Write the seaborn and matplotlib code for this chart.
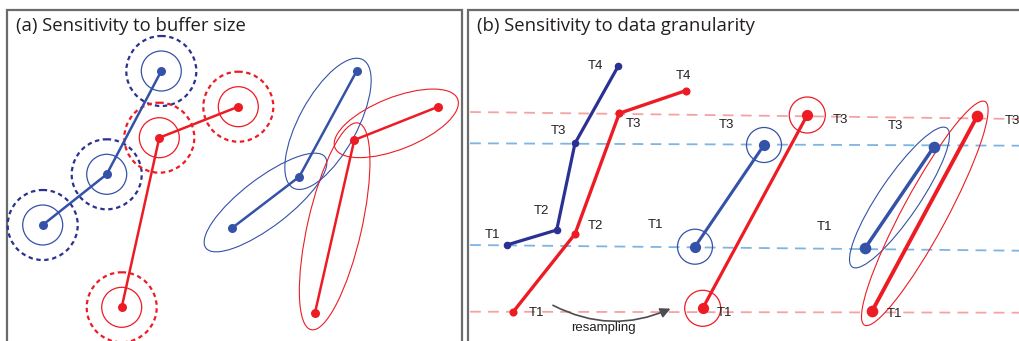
import numpy as np
import pandas as pd
import seaborn as sns
import matplotlib
matplotlib.use("Agg")
import matplotlib.pyplot as plt
from matplotlib.patches import Ellipse, Circle, FancyArrowPatch

# ---------------- data (pixel-space positions of the trajectory points) -------------
# Panel (a): buffer circles
buf_blue_x = [42.7, 106.7, 161.3]
buf_blue_y = [225.0, 174.3, 71.0]
buf_red_x = [121.7, 159.3, 238.3]
buf_red_y = [307.3, 137.7, 106.7]
# Panel (a): ellipse buffers
ell_blue_x = [231.7, 299.3, 356.7]
ell_blue_y = [228.3, 176.7, 71.0]
ell_red_x = [315.0, 354.3, 438.3]
ell_red_y = [312.7, 140.0, 106.7]
ell_blue_a = [75, 73]      # semi-axes along each segment
ell_blue_b = [24, 29]
ell_red_a = [106, 66]
ell_red_b = [27, 26]

# Panel (b): raw trajectories
gran_blue_x = [506.7, 556.7, 575.0, 618.3]
gran_blue_y = [245.0, 230.0, 143.3, 66.0]
gran_red_x = [513.3, 575.0, 619.3, 685.7]
gran_red_y = [311.7, 234.0, 113.3, 90.7]
gran_labels = ["T1", "T2", "T3", "T4"]
# resampled (circles)
mid_blue_x = [695.0, 764.0]
mid_blue_y = [246.7, 145.0]
mid_red_x = [702.7, 807.3]
mid_red_y = [308.3, 115.0]
# resampled (ellipses)
rgt_blue_x = [865.0, 934.0]
rgt_blue_y = [248.3, 146.7]
rgt_red_x = [872.3, 977.3]
rgt_red_y = [310.7, 116.0]
rgt_blue_a, rgt_blue_b = 84, 20
rgt_red_a, rgt_red_b = 127, 22

# horizontal guide lines (x0, y0, x1, y1)
guide_red = [(470, 112.0, 1019, 119.0), (470, 311.7, 1019, 312.7)]
guide_blue = [(470, 143.3, 1019, 145.7), (470, 245.0, 1019, 250.7)]

titles = ["(a) Sensitivity to buffer size", "(b) Sensitivity to data granularity"]

# ---------------- styling ----------------
sns.set_theme(style="white")
plt.rcParams["font.family"] = ["Liberation Sans", "DejaVu Sans"]

RED = "#ed1c24"
BLUE = "#3452a8"
NAVY = "#2b3192"
LRED = "#f4a3a3"
LBLUE = "#7db4e2"
BORDER = "#6b6b6b"

fig = plt.figure(figsize=(10.19, 3.41), dpi=100)
ax = fig.add_axes([0, 0, 1, 1])
ax.set_xlim(0, 1019)
ax.set_ylim(341, 0)
ax.set_aspect("equal")
ax.axis("off")


def path(xs, ys, color, lw, ms):
    df = pd.DataFrame({"x": xs, "y": ys})
    sns.lineplot(data=df, x="x", y="y", sort=False, estimator=None, color=color,
                 lw=lw, ax=ax, legend=False, zorder=3)
    sns.scatterplot(data=df, x="x", y="y", color=color, s=ms, edgecolor=color,
                    linewidth=0, ax=ax, legend=False, zorder=4)


def circ(x, y, r, color, ls="-", lw=1.0):
    ax.add_patch(Circle((x, y), r, fill=False, ec=color, lw=lw, ls=ls, zorder=2))


def ell(x0, y0, x1, y1, a, b, color, lw=0.8):
    cx, cy = (x0 + x1) / 2, (y0 + y1) / 2
    ang = np.degrees(np.arctan2(y1 - y0, x1 - x0))
    ax.add_patch(Ellipse((cx, cy), 2 * a, 2 * b, angle=ang, fill=False, ec=color,
                         lw=lw, zorder=2))


# panel borders
ax.plot([7, 7, 461.7, 461.7], [345, 10, 10, 345], color=BORDER, lw=1.6, zorder=1,
        solid_joinstyle="miter")
ax.plot([468.3, 468.3, 1025], [345, 10, 10], color=BORDER, lw=1.6, zorder=1,
        solid_joinstyle="miter")

ax.text(16, 26, titles[0], fontsize=13.3, family=["Open Sans", "DejaVu Sans"],
        color="#231f20", va="center", ha="left")
ax.text(477, 26, titles[1], fontsize=13.3, family=["Open Sans", "DejaVu Sans"],
        color="#231f20", va="center", ha="left")

# ---- panel (a), circles
for x, y in zip(buf_blue_x, buf_blue_y):
    circ(x, y, 20, BLUE, lw=0.9)
    circ(x, y, 35, NAVY, ls=(0, (2.0, 1.6)), lw=1.6)
for x, y in zip(buf_red_x, buf_red_y):
    circ(x, y, 20, RED, lw=0.9)
    circ(x, y, 35, RED, ls=(0, (2.0, 1.6)), lw=1.6)
path(buf_blue_x, buf_blue_y, BLUE, 1.8, 42)
path(buf_red_x, buf_red_y, RED, 1.8, 42)

# ---- panel (a), ellipses
for i in range(2):
    ell(ell_blue_x[i], ell_blue_y[i], ell_blue_x[i + 1], ell_blue_y[i + 1],
        ell_blue_a[i], ell_blue_b[i], BLUE)
    ell(ell_red_x[i], ell_red_y[i], ell_red_x[i + 1], ell_red_y[i + 1],
        ell_red_a[i], ell_red_b[i], RED)
path(ell_blue_x, ell_blue_y, BLUE, 1.8, 42)
path(ell_red_x, ell_red_y, RED, 1.8, 42)

# ---- panel (b) guides
for (x0, y0, x1, y1) in guide_red:
    ax.plot([x0, x1], [y0, y1], color=LRED, lw=1.3, ls=(0, (6, 4)), zorder=1)
for (x0, y0, x1, y1) in guide_blue:
    ax.plot([x0, x1], [y0, y1], color=LBLUE, lw=1.3, ls=(0, (6, 4)), zorder=1)

# raw trajectories
path(gran_blue_x, gran_blue_y, NAVY, 2.3, 30)
path(gran_red_x, gran_red_y, RED, 2.4, 34)

lab_blue = [(493, 235), (541.5, 211), (558, 131), (595, 66)]
lab_red = [(537, 313), (595, 226), (633, 124), (683.5, 76)]
for t, (x, y) in zip(gran_labels, lab_blue):
    ax.text(x, y, t, fontsize=9.5, ha="center", va="center", color="#231f20")
for t, (x, y) in zip(gran_labels, lab_red):
    ax.text(x, y, t, fontsize=9.5, ha="center", va="center", color="#231f20")

# resampled, circles
for x, y in zip(mid_blue_x, mid_blue_y):
    circ(x, y, 17.5, BLUE, lw=0.9)
for x, y in zip(mid_red_x, mid_red_y):
    circ(x, y, 18, RED, lw=0.9)
path(mid_blue_x, mid_blue_y, BLUE, 2.2, 65)
path(mid_red_x, mid_red_y, RED, 2.3, 65)
for t, (x, y) in zip(["T1", "T3", "T1", "T3"],
                     [(656, 224.5), (726, 124.5), (725, 313), (840, 120)]):
    ax.text(x, y, t, fontsize=9.5, ha="center", va="center", color="#231f20")

# resampled, ellipses
ell(rgt_blue_x[0], rgt_blue_y[0], rgt_blue_x[1], rgt_blue_y[1], rgt_blue_a, rgt_blue_b, BLUE)
ell(rgt_red_x[0], rgt_red_y[0], rgt_red_x[1], rgt_red_y[1], rgt_red_a, rgt_red_b, RED)
path(rgt_blue_x, rgt_blue_y, BLUE, 2.5, 70)
path(rgt_red_x, rgt_red_y, RED, 2.8, 70)
for t, (x, y) in zip(["T1", "T3", "T1", "T3"],
                     [(825, 226.5), (895, 126), (895, 314), (1012, 121.5)]):
    ax.text(x, y, t, fontsize=9.5, ha="center", va="center", color="#231f20")

# resampling arrow
ax.add_patch(FancyArrowPatch((550.5, 304), (673, 307.5), connectionstyle="arc3,rad=0.25",
                             arrowstyle="-|>,head_length=6,head_width=3", color="#4d4d4f",
                             lw=1.2, zorder=3))
ax.text(603.5, 328, "resampling", fontsize=9.5, ha="center", va="center", color="#231f20")

ax.set_xlabel("")
ax.set_ylabel("")
fig.savefig("out.png", dpi=100)
